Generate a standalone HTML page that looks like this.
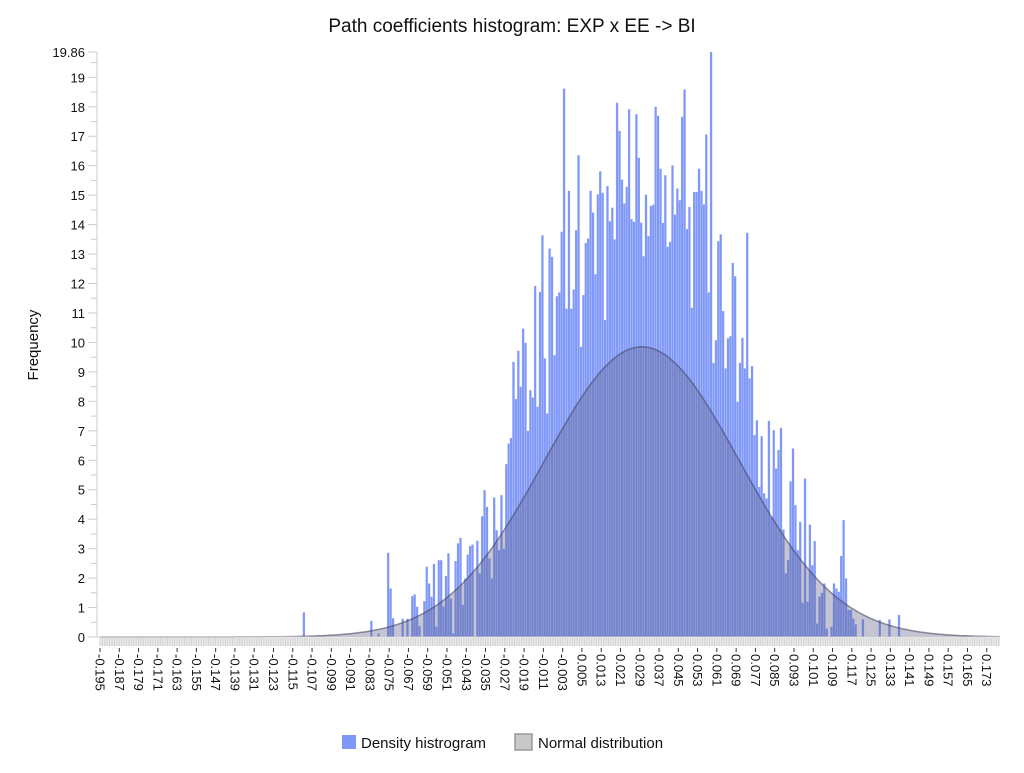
<!DOCTYPE html>
<html><head><meta charset="utf-8">
<style>
html,body{margin:0;padding:0;background:#fff;}
body{width:1024px;height:768px;overflow:hidden;font-family:"Liberation Sans",sans-serif;}
svg text{font-family:"Liberation Sans",sans-serif;}
</style></head>
<body>
<svg id="chart" width="1024" height="768" xmlns="http://www.w3.org/2000/svg">
<text x="512" y="32" text-anchor="middle" font-size="19" fill="#111">Path coefficients histogram: EXP x EE -&gt; BI</text>
<text x="0" y="0" transform="translate(38,345) rotate(-90)" text-anchor="middle" font-size="15" fill="#111">Frequency</text>
<g id="gStrip"></g>
<g id="gBars"></g>
<g id="gCurve"></g>
<g id="gYAxis"></g>
<g id="gXAxis"></g>
<g>
<g>
<rect x="342" y="735" width="14" height="14" fill="#7f98f7"/>
<text x="361" y="748" font-size="15" fill="#111">Density histrogram</text>
</g>
<g>
<rect x="515" y="734" width="17" height="16" fill="#c8c8c8" stroke="#999" stroke-width="1.5"/>
<text x="538" y="748" font-size="15" fill="#111">Normal distribution</text>
</g>
</g>
</svg>
<script>
const binStart = -0.1109;
const binWidth = 0.001;
const densityValues = [
0.84,0,0,0,0,0,0,0,0,0,0,0,0,0,0,0,0,0,0,0,0,0,0,0,0,0,0,0,
0.55,0,0,0.12,0,0,0,2.86,1.65,0.64,0,0,0,0.62,0,0.62,0,1.39,1.45,1.03,0.37,0,
1.22,2.39,1.82,1.37,2.48,0.35,2.61,2.61,1.03,2.07,2.84,1.31,0.12,2.58,3.18,3.37,1.09,1.99,2.8,3.09,
3.14,0,3.27,2.16,4.1,4.99,4.42,2.67,1.99,4.74,3.63,2.95,4.82,3.0,5.87,6.57,
6.76,9.34,8.08,9.72,8.5,10.47,9.99,7.0,8.38,8.13,11.92,7.82,11.72,13.64,9.46,7.59,13.19,12.91,9.57,11.57,
11.7,13.76,18.62,11.15,15.15,11.15,11.8,13.81,16.36,9.85,11.61,13.38,13.53,15.15,14.41,12.32,15.03,15.81,15.08,10.76,
15.31,14.12,14.58,13.5,18.14,17.18,15.53,14.72,
15.28,17.92,14.19,14.1,17.75,16.27,14.07,12.93,15.02,13.61,14.64,14.68,18.0,17.7,15.9,14.06,15.68,13.25,13.42,16.01,
14.34,15.23,14.83,17.66,18.59,13.85,14.6,11.18,15.11,15.11,15.9,15.15,14.69,17.06,11.7,19.86,9.31,10.08,13.44,13.67,
11.07,9.12,10.14,10.21,12.7,12.25,7.99,9.31,10.16,9.12,13.72,8.78,
9.2,
6.86,7.36,5.1,6.82,4.88,4.71,7.34,4.08,7.02,5.72,6.35,7.1,3.65,2.16,2.61,5.29,6.4,4.48,2.95,3.91,
1.17,5.38,1.2,3.82,2.44,3.26,0.46,1.37,1.5,1.82,0.29,0,0.35,1.82,1.65,1.54,2.75,3.97,1.99,0.92,
0.92,0.63,0.43,
0,0,0.6,0,0,0,0,0,0,0.58,0,0,0,0.6,0,0,0,0.75
];
const normalMean = 0.0299;
const normalSd = 0.0405;
const yTickValues = [0,1,2,3,4,5,6,7,8,9,10,11,12,13,14,15,16,17,18,19];
const yMaxValue = 19.86;
const xTickLabels = [];
for (let i = 0; i <= 46; i++) xTickLabels.push((-0.195 + i*0.008).toFixed(3));

const X0=100, X1=1000, Y0=637, Y1=52;
const xMin=-0.195, xMax=0.1785;
function xs(v){return X0+(v-xMin)/(xMax-xMin)*(X1-X0);}
function ys(v){return Y0-v/yMaxValue*(Y0-Y1);}
const NS="http://www.w3.org/2000/svg";
function mk(tag,attrs,parent){const e=document.createElementNS(NS,tag);for(const k in attrs)e.setAttribute(k,attrs[k]);parent.appendChild(e);return e;}

const gStrip=document.getElementById('gStrip');
mk('rect',{x:X0,y:Y0+1,width:X1-X0,height:8,fill:'#ececec'},gStrip);
for(let v=xMin; v<=xMax+1e-9; v+=0.001){
  mk('line',{x1:xs(v),x2:xs(v),y1:Y0+1,y2:Y0+9,stroke:'#cfcfcf','stroke-width':1},gStrip);
}

const gBars=document.getElementById('gBars');
densityValues.forEach((val,k)=>{
  if(val<=0) return;
  const a=xs(binStart+k*binWidth), b=xs(binStart+(k+1)*binWidth);
  const r=mk('rect',{x:a,y:ys(val),width:b-a,height:Y0-ys(val),fill:'#7f98f7',stroke:'rgba(255,255,255,0.45)','stroke-width':0.35},gBars);
  
  
});

const gCurve=document.getElementById('gCurve');
let d='', pts=[];
for(let px=X0; px<=X1; px+=2){
  const v=xMin+(px-X0)/(X1-X0)*(xMax-xMin);
  const z=(v-normalMean)/normalSd;
  const dens=Math.exp(-0.5*z*z)/(normalSd*Math.sqrt(2*Math.PI));
  pts.push([px,ys(dens)]);
}
d='M'+pts.map(p=>p[0].toFixed(1)+','+p[1].toFixed(1)).join(' L');
mk('path',{d:d+' L'+X1+','+Y0+' L'+X0+','+Y0+' Z',fill:'rgba(100,100,140,0.38)',stroke:'none'},gCurve);
mk('path',{d:d,fill:'none',stroke:'rgba(70,70,100,0.6)','stroke-width':1.5},gCurve);

const gY=document.getElementById('gYAxis');
mk('line',{x1:97,x2:97,y1:Y1,y2:Y0,stroke:'#cccccc','stroke-width':1},gY);
mk('line',{x1:97,x2:X1,y1:Y0,y2:Y0,stroke:'#cccccc','stroke-width':1},gY);
const allY=yTickValues.concat([yMaxValue]);
allY.forEach(v=>{
  mk('line',{x1:88,x2:97,y1:ys(v),y2:ys(v),stroke:'#cccccc','stroke-width':1},gY);
  const t=mk('text',{x:85,y:ys(v)+5,'text-anchor':'end','font-size':13,fill:'#111'},gY);
  t.textContent=(v===yMaxValue?yMaxValue.toFixed(2):String(v));
  
  
});
yTickValues.forEach(v=>{ if(v+0.5<yMaxValue) mk('line',{x1:91,x2:97,y1:ys(v+0.5),y2:ys(v+0.5),stroke:'#cccccc','stroke-width':1},gY); });

const gX=document.getElementById('gXAxis');
xTickLabels.forEach(lbl=>{
  const x=xs(parseFloat(lbl));
  mk('line',{x1:x,x2:x,y1:Y0+11,y2:Y0+15,stroke:'#333','stroke-width':1},gX);
  const t=mk('text',{x:0,y:0,transform:'translate('+(x-4.5)+','+(Y0+17)+') rotate(90)','font-size':13,fill:'#111'},gX);
  t.textContent=lbl;
  
  
});
</script>
</body></html>
